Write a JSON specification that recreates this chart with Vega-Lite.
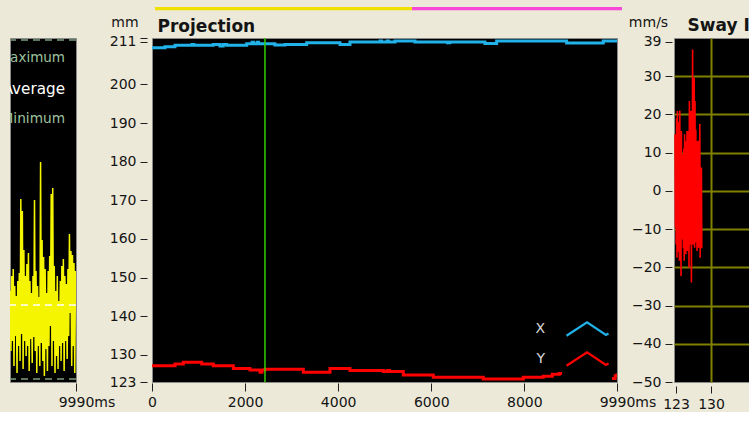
{
  "$schema": "https://vega.github.io/schema/vega-lite/v6.json",
  "background": "#ECE9D8",
  "padding": {"left": 9, "top": 6, "right": 0, "bottom": 0},
  "bounds": "flush",
  "spacing": 76,
  "datasets": {
    "amp": [
      {"t":8604,"v":91},{"t":8620,"v":31},{"t":8636,"v":106},{"t":8652,"v":41},{"t":8668,"v":113},{"t":8684,"v":16},
      {"t":8700,"v":96},{"t":8716,"v":46},{"t":8732,"v":86},{"t":8748,"v":9},{"t":8764,"v":101},{"t":8780,"v":36},
      {"t":8796,"v":109},{"t":8812,"v":21},{"t":8828,"v":183},{"t":8844,"v":48},{"t":8860,"v":171},{"t":8876,"v":13},
      {"t":8892,"v":132},{"t":8908,"v":41},{"t":8924,"v":106},{"t":8940,"v":26},{"t":8956,"v":118},{"t":8972,"v":36},
      {"t":8988,"v":129},{"t":9004,"v":11},{"t":9020,"v":101},{"t":9036,"v":43},{"t":9052,"v":89},{"t":9068,"v":19},
      {"t":9084,"v":106},{"t":9100,"v":45},{"t":9116,"v":182},{"t":9132,"v":31},{"t":9148,"v":111},{"t":9164,"v":9},
      {"t":9180,"v":96},{"t":9196,"v":36},{"t":9212,"v":85},{"t":9228,"v":16},{"t":9244,"v":220},{"t":9260,"v":39},
      {"t":9276,"v":142},{"t":9292,"v":21},{"t":9308,"v":125},{"t":9324,"v":6},{"t":9340,"v":113},{"t":9356,"v":33},
      {"t":9372,"v":89},{"t":9388,"v":11},{"t":9404,"v":111},{"t":9420,"v":36},{"t":9436,"v":126},{"t":9452,"v":56},
      {"t":9468,"v":188},{"t":9484,"v":16},{"t":9500,"v":194},{"t":9516,"v":41},{"t":9532,"v":116},{"t":9548,"v":9},
      {"t":9564,"v":91},{"t":9580,"v":26},{"t":9596,"v":106},{"t":9612,"v":13},{"t":9628,"v":81},{"t":9644,"v":36},
      {"t":9660,"v":101},{"t":9676,"v":21},{"t":9692,"v":116},{"t":9708,"v":39},{"t":9724,"v":123},{"t":9740,"v":11},
      {"t":9756,"v":106},{"t":9772,"v":41},{"t":9788,"v":98},{"t":9804,"v":23},{"t":9820,"v":113},{"t":9836,"v":46},
      {"t":9852,"v":148},{"t":9868,"v":69},{"t":9884,"v":131},{"t":9900,"v":16},{"t":9916,"v":127},{"t":9932,"v":36},
      {"t":9948,"v":119},{"t":9964,"v":9},{"t":9980,"v":111}
    ],
    "stats": [
      {"stat":"Maximum","v":342},
      {"stat":"Average","v":77},
      {"stat":"Minimum","v":3}
    ],
    "proj": [
      {"t":0,"mm":209.5,"axis":"X"},{"t":279,"mm":209.75,"axis":"X"},{"t":494,"mm":210.1,"axis":"X"},
      {"t":860,"mm":210.35,"axis":"X"},{"t":900,"mm":210.1,"axis":"X"},{"t":1317,"mm":210.35,"axis":"X"},
      {"t":1460,"mm":209.9,"axis":"X"},{"t":1530,"mm":210.35,"axis":"X"},{"t":1604,"mm":210.1,"axis":"X"},
      {"t":2034,"mm":210.5,"axis":"X"},{"t":2150,"mm":210.9,"axis":"X"},{"t":2180,"mm":210.5,"axis":"X"},
      {"t":2260,"mm":210.9,"axis":"X"},{"t":2290,"mm":210.5,"axis":"X"},{"t":2640,"mm":210.2,"axis":"X"},
      {"t":2857,"mm":210.35,"axis":"X"},{"t":3323,"mm":210.8,"axis":"X"},{"t":4039,"mm":210.35,"axis":"X"},
      {"t":4253,"mm":210.96,"axis":"X"},{"t":4900,"mm":211.2,"axis":"X"},{"t":4930,"mm":210.96,"axis":"X"},
      {"t":5050,"mm":211.2,"axis":"X"},{"t":5080,"mm":210.96,"axis":"X"},{"t":5220,"mm":211.2,"axis":"X"},
      {"t":5650,"mm":210.96,"axis":"X"},{"t":6350,"mm":210.75,"axis":"X"},{"t":6400,"mm":210.96,"axis":"X"},
      {"t":7153,"mm":210.6,"axis":"X"},{"t":7404,"mm":211.2,"axis":"X"},{"t":8908,"mm":210.7,"axis":"X"},
      {"t":9695,"mm":211.2,"axis":"X"},{"t":9990,"mm":211.2,"axis":"X"},
      {"t":0,"mm":127.2,"axis":"Y"},{"t":494,"mm":127.66,"axis":"Y"},{"t":673,"mm":128.1,"axis":"Y"},
      {"t":1067,"mm":127.66,"axis":"Y"},{"t":1317,"mm":127.2,"axis":"Y"},{"t":1747,"mm":126.5,"axis":"Y"},
      {"t":2105,"mm":126.1,"axis":"Y"},{"t":2320,"mm":125.5,"axis":"Y"},{"t":2360,"mm":126.1,"axis":"Y"},
      {"t":2428,"mm":126.3,"axis":"Y"},{"t":3251,"mm":125.5,"axis":"Y"},{"t":3824,"mm":126.5,"axis":"Y"},
      {"t":4253,"mm":126.0,"axis":"Y"},{"t":4970,"mm":125.7,"axis":"Y"},{"t":5050,"mm":126.0,"axis":"Y"},
      {"t":5100,"mm":125.7,"axis":"Y"},{"t":5399,"mm":124.8,"axis":"Y"},{"t":6043,"mm":124.2,"axis":"Y"},
      {"t":7117,"mm":123.77,"axis":"Y"},{"t":7977,"mm":124.2,"axis":"Y"},{"t":8406,"mm":124.5,"axis":"Y"},
      {"t":8600,"mm":125.0,"axis":"Y"},{"t":8750,"mm":125.2,"axis":"Y"},{"t":8810,"mm":125.2,"axis":"Y"},
      {"t":8820,"mm":null,"axis":"Y"},
      {"t":9880,"mm":123.9,"axis":"Y"},{"t":9950,"mm":124.6,"axis":"Y"},{"t":9990,"mm":125.2,"axis":"Y"}
    ],
    "bars": [
      {"t":64,"t2":5585,"part":"a"},
      {"t":5585,"t2":10097,"part":"b"}
    ],
    "cursor": [{"t":2427}],
    "phase": [
      {"pos":122.80,"vel":14.8},{"pos":122.88,"vel":-9.6},{"pos":122.96,"vel":12},{"pos":123.04,"vel":-14},
      {"pos":123.12,"vel":19},{"pos":123.20,"vel":-17.5},{"pos":123.28,"vel":20.9},{"pos":123.36,"vel":-12},
      {"pos":123.44,"vel":8},{"pos":123.52,"vel":-16},{"pos":123.60,"vel":18},{"pos":123.68,"vel":-18.3},
      {"pos":123.76,"vel":21},{"pos":123.84,"vel":-10},{"pos":123.92,"vel":12},{"pos":124.00,"vel":-22.3},
      {"pos":124.08,"vel":15.7},{"pos":124.16,"vel":-6},{"pos":124.24,"vel":5},{"pos":124.32,"vel":-12.7},
      {"pos":124.40,"vel":9.6},{"pos":124.48,"vel":-15},{"pos":124.56,"vel":11},{"pos":124.64,"vel":-18.3},
      {"pos":124.72,"vel":14.8},{"pos":124.80,"vel":-11},{"pos":124.88,"vel":7},{"pos":124.96,"vel":-16.6},
      {"pos":125.04,"vel":13},{"pos":125.12,"vel":-9},{"pos":125.20,"vel":15.7},{"pos":125.28,"vel":-15.7},
      {"pos":125.36,"vel":10},{"pos":125.44,"vel":-12},{"pos":125.52,"vel":15.7},{"pos":125.60,"vel":-20.1},
      {"pos":125.68,"vel":23.5},{"pos":125.76,"vel":-8},{"pos":125.84,"vel":18},{"pos":125.92,"vel":-14},
      {"pos":126.00,"vel":20.9},{"pos":126.08,"vel":-24},{"pos":126.16,"vel":14},{"pos":126.24,"vel":-10},
      {"pos":126.32,"vel":37},{"pos":126.40,"vel":-14},{"pos":126.48,"vel":25},{"pos":126.56,"vel":-7},
      {"pos":126.64,"vel":29.6},{"pos":126.72,"vel":-14.9},{"pos":126.80,"vel":23.5},{"pos":126.88,"vel":-11},
      {"pos":126.96,"vel":16},{"pos":127.04,"vel":-13.5},{"pos":127.12,"vel":13},{"pos":127.20,"vel":-15.7},
      {"pos":127.28,"vel":9},{"pos":127.36,"vel":-12},{"pos":127.44,"vel":13.1},{"pos":127.52,"vel":-14.9},
      {"pos":127.60,"vel":11},{"pos":127.68,"vel":-10},{"pos":127.76,"vel":17.5},{"pos":127.84,"vel":-17.5},
      {"pos":127.92,"vel":6.1},{"pos":128.00,"vel":-12},{"pos":128.08,"vel":6.1},{"pos":128.16,"vel":-15}
    ]
  },
  "hconcat": [
    {
      "width": 66,
      "height": 344,
      "view": {"fill": "#000000", "stroke": "#8a8a8a"},
      "resolve": {"scale": {"y": "independent"}},
      "layer": [
        {
          "data": {"name": "amp"},
          "mark": {"type": "line", "color": "#F5F500", "strokeWidth": 1.5, "clip": true},
          "encoding": {
            "x": {"field": "t", "type": "quantitative",
              "scale": {"domain": [8600, 9990], "nice": false, "zero": false},
              "axis": {"values": [9990], "labelExpr": "'9990ms'", "labelAlign": "left", "labelOffset": -17.8,
                "offset": 1, "tickSize": 8, "labelPadding": 4, "labelFlush": false, "labelOverlap": false, "title": null}},
            "y": {"field": "v", "type": "quantitative", "scale": {"domain": [0, 344], "nice": false, "zero": false}, "axis": null}
          }
        },
        {
          "data": {"name": "stats"},
          "mark": {"type": "rule", "strokeDash": [7, 5], "strokeWidth": 1.5, "clip": true},
          "encoding": {
            "y": {"field": "v", "type": "quantitative", "scale": {"domain": [0, 344], "nice": false, "zero": false}, "axis": null},
            "color": {"condition": {"test": "datum.stat === 'Average'", "value": "#FFFFFF"}, "value": "#7E9C80"}
          }
        },
        {
          "data": {"name": "stats"},
          "mark": {"type": "text", "align": "right", "baseline": "middle", "dx": -11, "clip": true, "font": "DejaVu Sans"},
          "encoding": {
            "x": {"datum": 9990, "type": "quantitative"},
            "y": {"field": "stat", "type": "nominal", "sort": null,
              "scale": {"domain": ["Maximum", "Average", "Minimum"], "range": [20, 81], "padding": 0}, "axis": null},
            "text": {"field": "stat"},
            "size": {"condition": [{"test": "datum.stat === 'Average'", "value": 15.2}, {"test": "datum.stat === 'Maximum'", "value": 13.5}], "value": 13.7},
            "color": {"condition": {"test": "datum.stat === 'Average'", "value": "#FFFFFF"}, "value": "#9DC29D"}
          }
        }
      ]
    },
    {
      "bounds": "flush",
      "spacing": 57,
      "hconcat": [
        {
          "width": 465,
          "height": 344,
          "view": {"fill": "#000000", "stroke": "#8a8a8a"},
          "layer": [
            {
              "data": {"name": "proj"},
              "mark": {"type": "line", "interpolate": "step-after", "strokeWidth": 3, "clip": true},
              "encoding": {
                "x": {"field": "t", "type": "quantitative",
                  "scale": {"domain": [0, 9990], "nice": false, "zero": false},
                  "axis": {"values": [0, 2000, 4000, 6000, 8000, 9990], "format": "d",
                    "labelExpr": "datum.value == 9990 ? '9990ms' : datum.label",
                    "labelAlign": {"condition": {"test": "datum.value == 9990", "value": "left"}, "value": "center"},
                    "labelOffset": {"condition": {"test": "datum.value == 9990", "value": -17.8}, "value": 0},
                    "offset": 1, "tickSize": 8, "labelPadding": 4, "labelFlush": false, "labelOverlap": false,
                    "title": "Projection", "titleX": 5, "titleY": -352, "titleAlign": "left",
                    "titleBaseline": "alphabetic", "titleFontSize": 17, "titleFontWeight": "bold"}},
                "y": {"field": "mm", "type": "quantitative",
                  "scale": {"domain": [123, 212], "nice": false, "zero": false},
                  "axis": {"values": [123, 130, 140, 150, 160, 170, 180, 190, 200, 211, 212], "format": "d",
                    "labelExpr": "datum.value == 212 ? '' : datum.label",
                    "offset": 5, "tickSize": 7, "labelPadding": 4, "labelOverlap": false, "labelFlush": false,
                    "title": "mm", "titleAngle": 0, "titleAlign": "center", "titleBaseline": "alphabetic",
                    "titleX": -22.5, "titleY": -12}},
                "color": {"field": "axis", "type": "nominal",
                  "scale": {"domain": ["X", "Y"], "range": ["#22B2EA", "#FF0000"]},
                  "legend": {"orient": "none", "legendX": 561, "legendY": 274.5, "title": null, "padding": 0,
                    "symbolType": "M-1.4,0.45L-0.03,-0.45L1.23,0.4L1.4,0.3", "symbolSize": 900,
                    "symbolStrokeWidth": 2.2, "symbolFillColor": "transparent",
                    "labelAlign": "right", "labelOffset": -59, "labelColor": "#DADADA",
                    "labelFont": "DejaVu Sans", "labelFontSize": 14, "rowPadding": 2}}
              }
            },
            {
              "data": {"name": "cursor"},
              "mark": {"type": "rule", "color": "#33CC00", "strokeWidth": 1.5},
              "encoding": {
                "x": {"field": "t", "type": "quantitative",
                  "axis": {"values": [0, 2000, 4000, 6000, 8000, 9990], "format": "d",
                    "labelExpr": "datum.value == 9990 ? '9990ms' : datum.label",
                    "labelAlign": {"condition": {"test": "datum.value == 9990", "value": "left"}, "value": "center"},
                    "labelOffset": {"condition": {"test": "datum.value == 9990", "value": -17.8}, "value": 0},
                    "offset": 1, "tickSize": 8, "labelPadding": 4, "labelFlush": false, "labelOverlap": false,
                    "title": "Projection", "titleX": 5, "titleY": -352, "titleAlign": "left",
                    "titleBaseline": "alphabetic", "titleFontSize": 17, "titleFontWeight": "bold"}}
              }
            },
            {
              "data": {"name": "bars"},
              "mark": {"type": "rect"},
              "encoding": {
                "x": {"field": "t", "type": "quantitative",
                  "axis": {"values": [0, 2000, 4000, 6000, 8000, 9990], "format": "d",
                    "labelExpr": "datum.value == 9990 ? '9990ms' : datum.label",
                    "labelAlign": {"condition": {"test": "datum.value == 9990", "value": "left"}, "value": "center"},
                    "labelOffset": {"condition": {"test": "datum.value == 9990", "value": -17.8}, "value": 0},
                    "offset": 1, "tickSize": 8, "labelPadding": 4, "labelFlush": false, "labelOverlap": false,
                    "title": "Projection", "titleX": 5, "titleY": -352, "titleAlign": "left",
                    "titleBaseline": "alphabetic", "titleFontSize": 17, "titleFontWeight": "bold"}},
                "x2": {"field": "t2"},
                "y": {"datum": 219.2, "type": "quantitative",
                  "axis": {"values": [123, 130, 140, 150, 160, 170, 180, 190, 200, 211, 212], "format": "d",
                    "labelExpr": "datum.value == 212 ? '' : datum.label",
                    "offset": 5, "tickSize": 7, "labelPadding": 4, "labelOverlap": false, "labelFlush": false,
                    "title": "mm", "titleAngle": 0, "titleAlign": "center", "titleBaseline": "alphabetic",
                    "titleX": -22.5, "titleY": -12}},
                "y2": {"datum": 220},
                "color": {"condition": {"test": "datum.part === 'a'", "value": "#F0E000"}, "value": "#F848D8"}
              }
            }
          ]
        },
        {
          "width": 100,
          "height": 344,
          "view": {"fill": "#000000", "stroke": "#8a8a8a"},
          "data": {"name": "phase"},
          "mark": {"type": "line", "color": "#FF0000", "strokeWidth": 1.6, "clip": true},
          "encoding": {
            "x": {"field": "pos", "type": "quantitative",
              "scale": {"domain": [122.6, 142.6], "nice": false, "zero": false},
              "axis": {"values": [123, 130, 140], "format": "d", "grid": true, "gridColor": "#808000", "gridWidth": 2,
                "gridOpacity": {"condition": {"test": "datum.value == 123", "value": 0}, "value": 1},
                "offset": 4, "tickSize": 7, "labelPadding": 4, "labelFlush": false, "labelOverlap": false,
                "title": "Sway I", "titleX": 13, "titleY": -356, "titleAlign": "left",
                "titleBaseline": "alphabetic", "titleFontSize": 17, "titleFontWeight": "bold"}},
            "y": {"field": "vel", "type": "quantitative",
              "scale": {"domain": [-50, 40], "nice": false, "zero": false},
              "axis": {"values": [-50, -40, -30, -20, -10, 0, 10, 20, 30, 39], "format": "d", "grid": true,
                "gridColor": "#808000", "gridWidth": 2,
                "gridOpacity": {"condition": {"test": "datum.value == 39 || datum.value == -50", "value": 0}, "value": 1},
                "offset": 2, "tickSize": 7, "labelPadding": 4, "labelOverlap": false, "labelFlush": false,
                "title": "mm/s", "titleAngle": 0, "titleAlign": "center", "titleBaseline": "alphabetic",
                "titleX": -24, "titleY": -12}}
          }
        }
      ]
    }
  ],
  "config": {
    "font": "DejaVu Sans",
    "axis": {"labelFont": "DejaVu Sans", "labelFontSize": 14, "labelColor": "#141414", "tickColor": "#202020",
      "domain": false, "grid": false, "titleFont": "DejaVu Sans", "titleFontSize": 14, "titleFontWeight": "normal",
      "titleColor": "#141414"}
  }
}
